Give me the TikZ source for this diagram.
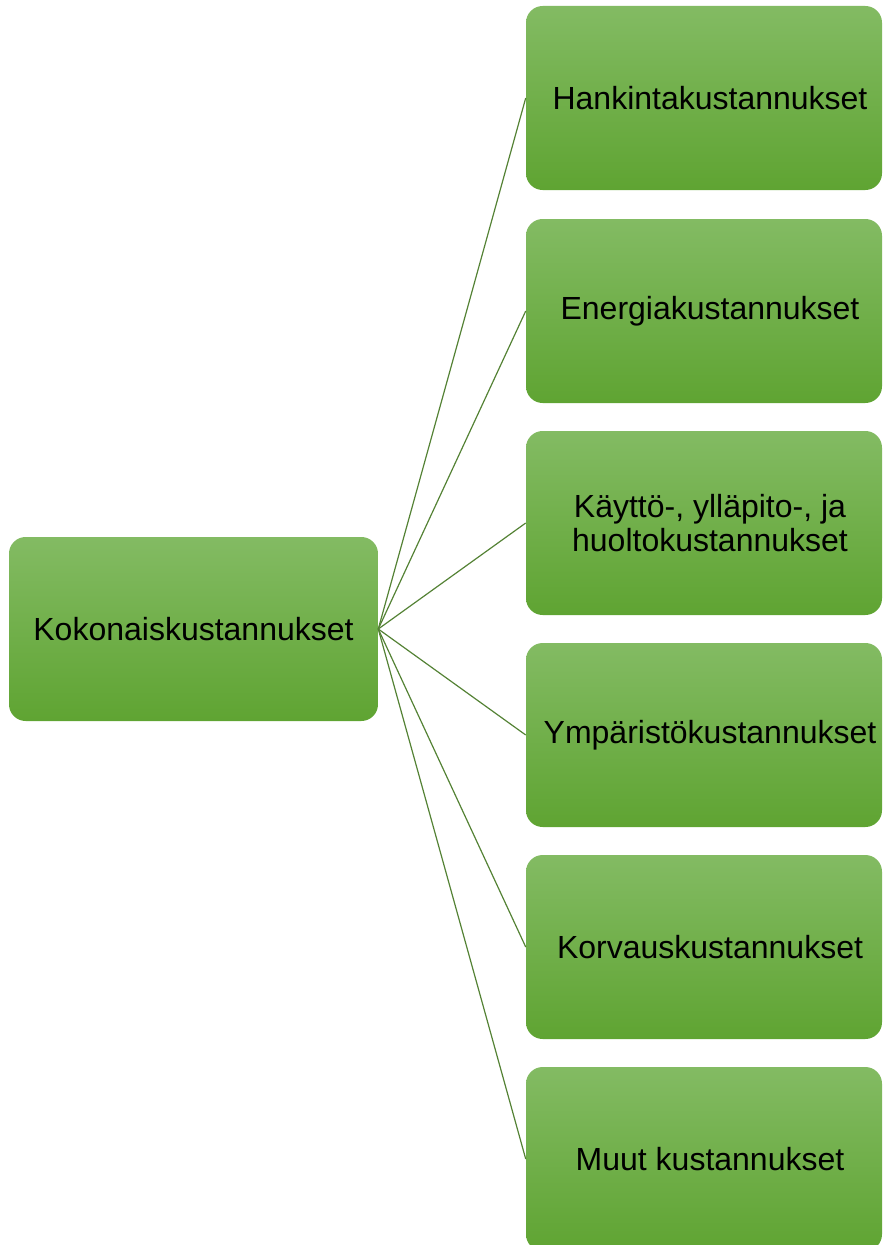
\documentclass[tikz,border=0pt]{standalone}
\usepackage{fontspec}
\setmainfont{Liberation Sans}
\definecolor{gtop}{RGB}{131,187,99}
\definecolor{gbot}{RGB}{95,164,50}
\definecolor{lin}{RGB}{84,130,53}
\begin{document}
\begin{tikzpicture}[x=0.75pt,y=-0.75pt,
  box/.style={rectangle, rounded corners=12.5pt, top color=gtop, bottom color=gbot, draw=none,
    minimum height=138pt, inner sep=0pt, align=center, font=\fontsize{24pt}{25pt}\selectfont, text=black},
  lbox/.style={box, minimum width=276.75pt},
  rbox/.style={box, minimum width=267pt},
  conn/.style={draw=lin, line width=0.9pt}]
\useasboundingbox (0,0) rectangle (883,1245);
\node[lbox] (root) at (193.5,629) {Kokonaiskustannukset};
\node[rbox] (a) at (704,98) {\hspace{9pt}Hankintakustannukset};
\node[rbox] (b) at (704,311) {\hspace{9pt}Energiakustannukset};
\node[rbox] (c) at (704,523) {\hspace{9pt}Käyttö-, ylläpito-, ja\\\hspace{9pt}huoltokustannukset};
\node[rbox] (d) at (704,735) {\hspace{9pt}Ympäristökustannukset};
\node[rbox] (e) at (704,947) {\hspace{9pt}Korvauskustannukset};
\node[rbox] (f) at (704,1159) {\hspace{9pt}Muut kustannukset};
\foreach \n in {a,b,c,d,e,f} \draw[conn] (root.east) -- (\n.west);
\end{tikzpicture}
\end{document}
